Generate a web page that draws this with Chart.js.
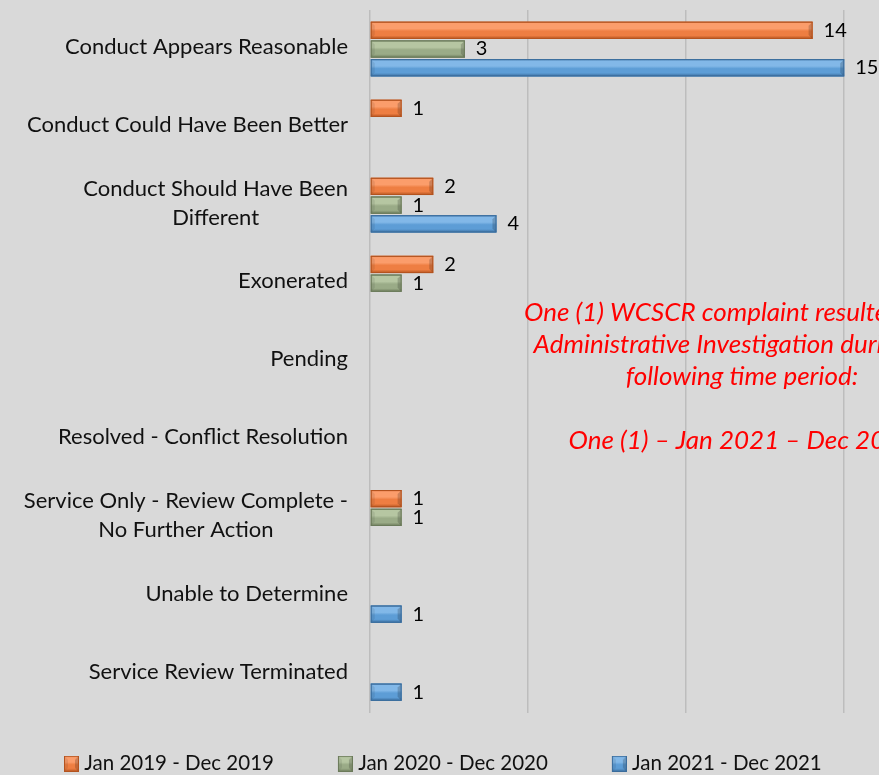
<!DOCTYPE html>
<html>
<head>
<meta charset="utf-8">
<script src="https://cdn.jsdelivr.net/npm/chart.js@4.4.1/dist/chart.umd.min.js"></script>
<style>
  html, body { margin: 0; padding: 0; background: #d9d9d9; overflow: hidden; }
  #wrap { position: relative; width: 879px; height: 775px; }
</style>
</head>
<body>
<div id="wrap"><canvas id="chart"></canvas></div>
<script>
// Chart data
const categories = [
  'Conduct Appears Reasonable',
  'Conduct Could Have Been Better',
  ['Conduct Should Have Been', 'Different'],
  'Exonerated',
  'Pending',
  'Resolved - Conflict Resolution',
  ['Service Only - Review Complete -', 'No Further Action'],
  'Unable to Determine',
  'Service Review Terminated'
];
const seriesNames = ['Jan 2019 - Dec 2019', 'Jan 2020 - Dec 2020', 'Jan 2021 - Dec 2021'];
const values2019 = [14, 1, 2, 2, null, null, 1, null, null];
const values2020 = [3, null, 1, 1, null, null, 1, null, null];
const values2021 = [15, null, 4, null, null, null, null, 1, 1];
const xTicks = [0, 5, 10, 15];
const noteLines = [
  'One (1) WCSCR complaint resulted in an',
  'Administrative Investigation during the',
  'following time period:',
  '',
  'One (1) \u2013 Jan 2021 \u2013 Dec 2021'
];

const FONT = 'Lato, "Open Sans", sans-serif';

// bevel colours per series
const palette = [
  { light: '#fb9d6b', mid: '#ee7e42', dark: '#b3531f' },
  { light: '#b6c6a2', mid: '#9aab87', dark: '#6b7a5a' },
  { light: '#82b8e8', mid: '#5d9dd6', dark: '#3a6c9c' }
];

const bevelFill = (ctx, c, left, top, w, h) => {
  const g = ctx.createLinearGradient(0, top, 0, top + h);
  g.addColorStop(0, c.dark);
  g.addColorStop(0.1, c.light);
  g.addColorStop(0.4, c.light);
  g.addColorStop(0.55, c.mid);
  g.addColorStop(0.8, c.mid);
  g.addColorStop(1, c.dark);
  ctx.fillStyle = g;
  ctx.fillRect(left, top, w, h);
  // slanted end caps
  const b = Math.min(4, w / 3);
  ctx.fillStyle = 'rgba(0,0,0,0.18)';
  ctx.beginPath();
  ctx.moveTo(left + w, top);
  ctx.lineTo(left + w, top + h);
  ctx.lineTo(left + w - b, top + h - b);
  ctx.lineTo(left + w - b, top + b);
  ctx.closePath();
  ctx.fill();
  ctx.fillStyle = 'rgba(0,0,0,0.08)';
  ctx.beginPath();
  ctx.moveTo(left, top);
  ctx.lineTo(left, top + h);
  ctx.lineTo(left + b, top + h - b);
  ctx.lineTo(left + b, top + b);
  ctx.closePath();
  ctx.fill();
  ctx.strokeStyle = c.dark;
  ctx.lineWidth = 1;
  ctx.strokeRect(left + 0.5, top + 0.5, w - 1, h - 1);
};

// legend marker images (marker sits at the right end of a wide transparent box)
const MARK_BOX = 64;
const makeMarker = (c) => {
  const cv = document.createElement('canvas');
  cv.width = MARK_BOX + 10;
  cv.height = 16;
  bevelFill(cv.getContext('2d'), c, cv.width - 15, 0, 15, 16);
  return cv;
};

// Bars shading
const bevelPlugin = {
  id: 'bevel',
  afterDatasetsDraw(chart) {
    const ctx = chart.ctx;
    chart.data.datasets.forEach((ds, i) => {
      const meta = chart.getDatasetMeta(i);
      meta.data.forEach((bar, j) => {
        if (ds.data[j] == null) return;
        const left = Math.min(bar.base, bar.x);
        const w = Math.abs(bar.x - bar.base);
        const top = bar.y - bar.height / 2;
        ctx.save();
        bevelFill(ctx, palette[i], left, top, w, bar.height);
        ctx.restore();
      });
    });
  }
};

// Value labels right of the bars
const valueLabels = {
  id: 'valueLabels',
  afterDatasetsDraw(chart) {
    const ctx = chart.ctx;
    ctx.save();
    ctx.font = '20px ' + FONT;
    ctx.fillStyle = '#000';
    ctx.textAlign = 'left';
    ctx.textBaseline = 'middle';
    chart.data.datasets.forEach((ds, i) => {
      chart.getDatasetMeta(i).data.forEach((bar, j) => {
        if (ds.data[j] == null) return;
        ctx.fillText(String(ds.data[j]), bar.x + 11, bar.y);
      });
    });
    ctx.restore();
  }
};

// Category labels: right aligned block, multi-line centred within block
const categoryLabels = {
  id: 'categoryLabels',
  afterDraw(chart) {
    const ctx = chart.ctx;
    const yScale = chart.scales.y;
    const right = chart.chartArea.left - 22;
    ctx.save();
    ctx.font = '22px ' + FONT;
    ctx.fillStyle = '#111';
    ctx.textBaseline = 'middle';
    categories.forEach((label, i) => {
      const y = yScale.getPixelForTick(i) - 2;
      if (Array.isArray(label)) {
        const w = Math.max(...label.map(l => ctx.measureText(l).width));
        ctx.textAlign = 'center';
        const lh = 29;
        label.forEach((line, k) => {
          ctx.fillText(line, right - w / 2, y + (k - (label.length - 1) / 2) * lh);
        });
      } else {
        ctx.textAlign = 'right';
        ctx.fillText(label, right, y);
      }
    });
    ctx.restore();
  }
};

// Red note inside plot area
const notePlugin = {
  id: 'note',
  afterDraw(chart) {
    const ctx = chart.ctx;
    ctx.save();
    ctx.font = 'italic 26px ' + FONT;
    ctx.fillStyle = '#ff0000';
    ctx.textAlign = 'center';
    ctx.textBaseline = 'middle';
    noteLines.forEach((line, k) => {
      ctx.fillText(line, 742, 313 + k * 32);
    });
    ctx.restore();
  }
};

const makeDataset = (label, data, i) => ({
  label,
  data,
  backgroundColor: palette[i].mid,
  borderWidth: 0,
  categoryPercentage: 0.72,
  barPercentage: 0.92
});

const markers = palette.map(makeMarker);

const chart = new Chart(document.getElementById('chart'), {
  type: 'bar',
  data: {
    labels: categories,
    datasets: [
      makeDataset(seriesNames[0], values2019, 0),
      makeDataset(seriesNames[1], values2020, 1),
      makeDataset(seriesNames[2], values2021, 2)
    ]
  },
  options: {
    indexAxis: 'y',
    responsive: true,
    maintainAspectRatio: false,
    animation: false,
    layout: { padding: { top: 10, right: 0, left: 0, bottom: -9 } },
    scales: {
      x: {
        min: 0,
        max: 16.1,
        afterBuildTicks: (scale) => {
          scale.ticks = xTicks.map(v => ({ value: v }));
        },
        afterFit: (scale) => { scale.height = 31; },
        ticks: { display: false },
        grid: { color: '#bdbdbd', lineWidth: 1.5, drawTicks: false },
        border: { display: false }
      },
      y: {
        afterFit: (scale) => { scale.width = 370; },
        ticks: { display: false },
        grid: { display: false },
        border: { display: false }
      }
    },
    plugins: {
      tooltip: { enabled: false },
      legend: {
        position: 'bottom',
        align: 'start',
        labels: {
          usePointStyle: true,
          pointStyleWidth: MARK_BOX,
          padding: 10,
          color: '#111',
          font: { family: FONT, size: 20.5 },
          generateLabels: (ch) => {
            const items = Chart.defaults.plugins.legend.labels.generateLabels(ch);
            items.forEach((it, i) => { it.pointStyle = markers[i]; });
            return items;
          }
        }
      }
    }
  },
  plugins: [bevelPlugin, valueLabels, categoryLabels, notePlugin]
});
</script>
</body>
</html>
